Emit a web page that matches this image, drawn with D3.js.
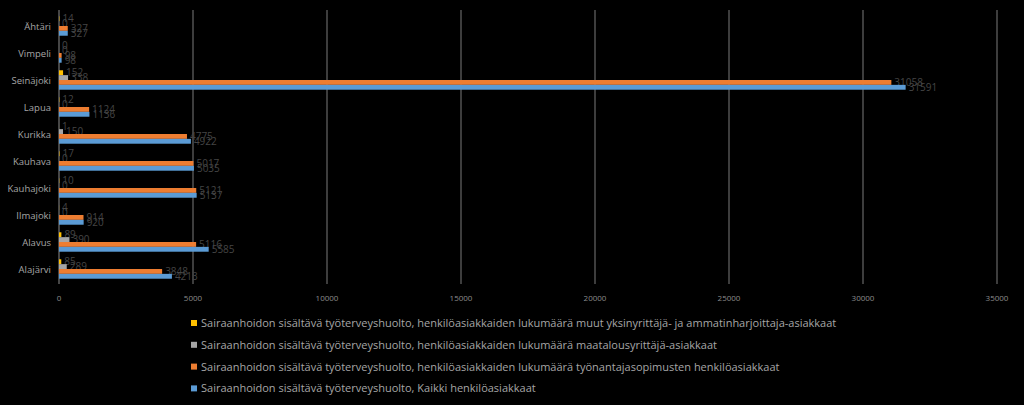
<!DOCTYPE html>
<html>
<head>
<meta charset="utf-8">
<script src="https://cdn.jsdelivr.net/npm/d3@7"></script>
<style>
  body { margin: 0; background: #000; }
  svg { display: block; font-family: "Open Sans", "DejaVu Sans", sans-serif; }
</style>
</head>
<body>
<div id="container"></div>
<script>
// categories, bottom to top as in the original
const towns = ["Alajärvi", "Alavus", "Ilmajoki", "Kauhajoki", "Kauhava", "Kurikka", "Lapua", "Seinäjoki", "Vimpeli", "Ähtäri"];

// series values, same order as towns
const kaikki      = [4213, 5585, 920, 5137, 5035, 4922, 1136, 31591, 98, 327];
const tyonantaja  = [3848, 5116, 914, 5121, 5017, 4775, 1124, 31058, 98, 327];
const maatalous   = [289, 390, 0, 0, 0, 150, 0, 338, 0, 0];
const muut        = [85, 89, 4, 10, 17, 1, 12, 152, 0, 14];

const seriesNames = [
  "Sairaanhoidon sisältävä työterveyshuolto, henkilöasiakkaiden lukumäärä muut yksinyrittäjä- ja ammatinharjoittaja-asiakkaat",
  "Sairaanhoidon sisältävä työterveyshuolto, henkilöasiakkaiden lukumäärä maatalousyrittäjä-asiakkaat",
  "Sairaanhoidon sisältävä työterveyshuolto, henkilöasiakkaiden lukumäärä työnantajasopimusten henkilöasiakkaat",
  "Sairaanhoidon sisältävä työterveyshuolto, Kaikki henkilöasiakkaat"
];
const seriesColors = ["#FFC000", "#A5A5A5", "#ED7D31", "#5B9BD5"];
const xTicks = [0, 5000, 10000, 15000, 20000, 25000, 30000, 35000];

// top to bottom within a group: muut, maatalous, tyonantaja, kaikki
const seriesValues = [muut, maatalous, tyonantaja, kaikki];

const width = 1024, height = 405;

const svg = d3.select("#container")
  .append("svg")
  .attr("width", width)
  .attr("height", height);

svg.append("rect").attr("width", width).attr("height", height).attr("fill", "#000");

const x = d3.scaleLinear().domain([0, 35000]).range([59, 997]);

const y = d3.scaleBand()
  .domain(towns.slice().reverse())
  .range([12.5, 282.5])
  .paddingInner(0.28)
  .paddingOuter(0.14);

const inner = d3.scaleBand()
  .domain(d3.range(4))
  .range([0, y.bandwidth()]);

// gridlines
svg.append("g")
  .selectAll("line")
  .data(xTicks)
  .join("line")
  .attr("x1", d => x(d)).attr("x2", d => x(d))
  .attr("y1", 10).attr("y2", 284)
  .attr("stroke", d => d === 0 ? "#8c8c8c" : "#7a7a7a")
  .attr("stroke-width", 1);

// x tick labels
svg.append("g")
  .selectAll("text")
  .data(xTicks)
  .join("text")
  .attr("x", d => x(d))
  .attr("y", 301)
  .attr("text-anchor", "middle")
  .attr("font-size", "8px")
  .attr("fill", "#8c8c8c")
  .text(d => d);

// category labels
svg.append("g")
  .selectAll("text")
  .data(towns)
  .join("text")
  .attr("x", 51)
  .attr("y", d => y(d) + y.bandwidth() / 2 + 3.5)
  .attr("text-anchor", "end")
  .attr("font-size", "9.5px")
  .attr("fill", "#a6a6a6")
  .text(d => d);

// bars
const groups = svg.append("g")
  .selectAll("g")
  .data(seriesValues)
  .join("g")
  .attr("fill", (d, i) => seriesColors[i]);

groups.each(function (vals, si) {
  const g = d3.select(this);
  g.selectAll("rect")
    .data(towns.map((t, ti) => ({ town: t, value: vals[ti] })))
    .join("rect")
    .attr("x", x(0))
    .attr("y", d => y(d.town) + inner(si))
    .attr("width", d => x(d.value) - x(0))
    .attr("height", inner.bandwidth());

  g.selectAll("text")
    .data(towns.map((t, ti) => ({ town: t, value: vals[ti] })))
    .join("text")
    .attr("x", d => x(d.value) + 3)
    .attr("y", d => y(d.town) + inner(si) + inner.bandwidth() / 2 + 3.5)
    .attr("font-size", "10px")
    .attr("fill", "#454545")
    .text(d => d.value);
});

// legend
const legend = svg.append("g")
  .selectAll("g")
  .data(seriesNames)
  .join("g")
  .attr("transform", (d, i) => `translate(191, ${323 + i * 21.8})`);

legend.append("rect")
  .attr("x", 0).attr("y", -3)
  .attr("width", 6).attr("height", 6)
  .attr("fill", (d, i) => seriesColors[i]);

legend.append("text")
  .attr("x", 10)
  .attr("y", 4)
  .attr("font-size", "11px")
  .attr("fill", "#a6a6a6")
  .text(d => d);
</script>
</body>
</html>
